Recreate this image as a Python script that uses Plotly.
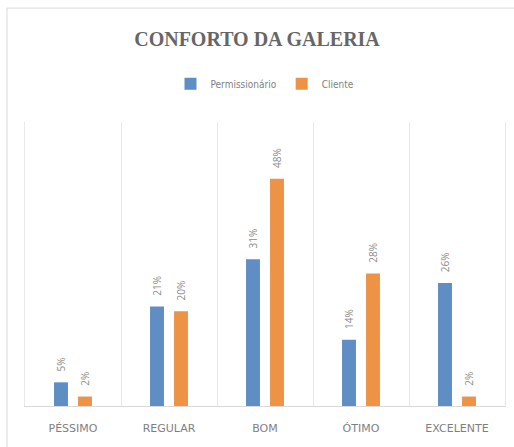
import plotly.graph_objects as go

categories = ["PÉSSIMO", "REGULAR", "BOM", "ÓTIMO", "EXCELENTE"]
permissionario = [5, 21, 31, 14, 26]
cliente = [2, 20, 48, 28, 2]

BLUE = "#5f8ec4"
ORANGE = "#ec9346"
GRAY = "#7f7f7f"
PAD = "\u00a0" * 3  # keeps the rotated labels a bit above the bars

fig = go.Figure()

for name, values, color in [
    ("Permissionário", permissionario, BLUE),
    ("Cliente", cliente, ORANGE),
]:
    fig.add_trace(go.Bar(
        x=categories,
        y=values,
        name=name,
        marker=dict(color=color, line=dict(width=0)),
        text=[f"{PAD}{v}%" for v in values],
        textposition="outside",
        textangle=-90,
        textfont=dict(family="Open Sans", size=10, color="#8c8c8c"),
        cliponaxis=False,
    ))

# outer chart border (left/top visible, the rest runs off the frame)
fig.add_shape(
    type="rect", xref="paper", yref="paper",
    x0=-0.0375, x1=1.02, y0=-0.16, y1=1.401,
    line=dict(color="#d9d9d9", width=1),
    fillcolor="rgba(0,0,0,0)", layer="below",
)

fig.update_layout(
    width=514,
    height=447,
    barmode="group",
    bargap=0.5,
    bargroupgap=0.42,
    uniformtext=dict(minsize=8, mode="show"),
    title=dict(
        text="CONFORTO DA GALERIA",
        x=0.5, xanchor="center",
        y=0.912, yanchor="middle",
        font=dict(family="Liberation Serif", size=20, color="#666666", weight="bold"),
    ),
    legend=dict(
        orientation="h",
        x=0.5, xanchor="center",
        y=1.135, yanchor="middle",
        font=dict(family="DejaVu Sans Condensed, Liberation Sans Narrow", size=10, color=GRAY),
        itemwidth=30,
        traceorder="normal",
    ),
    xaxis=dict(
        tickson="boundaries",
        showgrid=True,
        gridcolor="#e8e8e8",
        gridwidth=1,
        showline=True,
        linecolor="#d9d9d9",
        ticks="",
        ticklabelstandoff=12,
        tickfont=dict(family="DejaVu Sans", size=11, color=GRAY),
        fixedrange=True,
    ),
    yaxis=dict(
        range=[0, 60],
        showticklabels=False,
        showgrid=False,
        zeroline=False,
        ticks="",
        showline=True,
        mirror=True,
        linecolor="#e8e8e8",
        fixedrange=True,
    ),
    plot_bgcolor="white",
    paper_bgcolor="white",
    margin=dict(t=122, b=41, l=25, r=9),
)

fig.write_html(
    "out.html",
    config={"displayModeBar": False},
    post_script="document.body.style.margin='0';document.body.style.overflow='hidden';",
)
